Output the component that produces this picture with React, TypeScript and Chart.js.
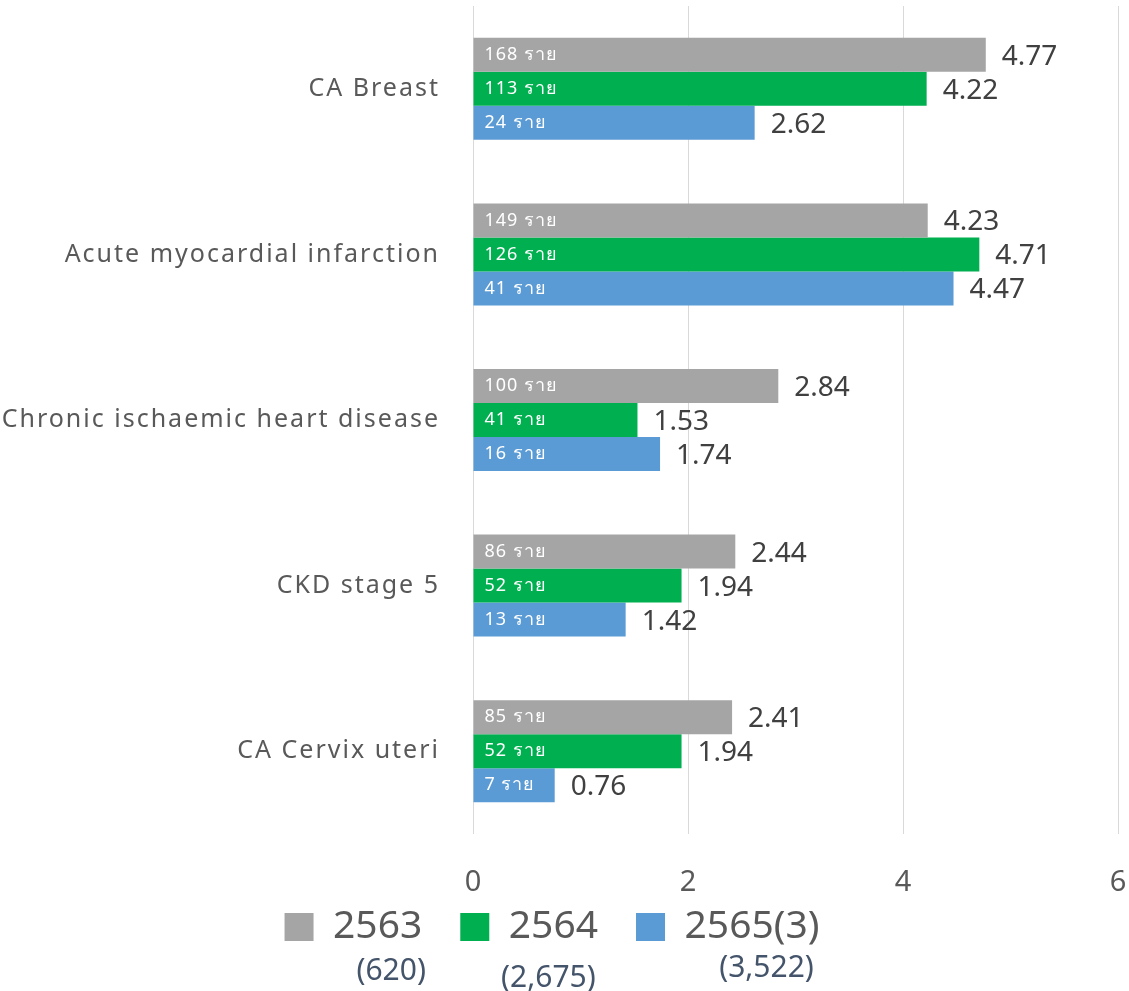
import React, { useEffect, useRef } from "react";
import { Chart, registerables } from "chart.js";

Chart.register(...registerables);

const categories = [
  "CA Breast",
  "Acute myocardial infarction",
  "Chronic ischaemic heart disease",
  "CKD stage 5",
  "CA Cervix uteri",
];
const seriesNames = ["2563", "2564", "2565(3)"];
const seriesTotals = ["(620)", "(2,675)", "(3,522)"];
const rate2563 = [4.77, 4.23, 2.84, 2.44, 2.41];
const rate2564 = [4.22, 4.71, 1.53, 1.94, 1.94];
const rate2565 = [2.62, 4.47, 1.74, 1.42, 0.76];
const cases2563 = [168, 149, 100, 86, 85];
const cases2564 = [113, 126, 41, 52, 52];
const cases2565 = [24, 41, 16, 13, 7];
const xMin = 0;
const xMax = 6;
const xStep = 2;
const seriesColors = ["#A5A5A5", "#00B050", "#5B9BD5"];

const FONT = "'Noto Sans', 'DejaVu Sans', sans-serif";
const casesBySeries = [cases2563, cases2564, cases2565];
const ratesBySeries = [rate2563, rate2564, rate2565];

const labelPlugin = {
  id: "barLabels",
  afterLayout(chart: any) {
    const lg = chart.legend;
    if (lg) {
      lg.left -= 7;
      lg.right -= 7;
      lg.top -= 34.5;
      lg.bottom -= 34.5;
    }
  },
  afterDatasetsDraw(chart: any) {
    const ctx = chart.ctx;
    chart.data.datasets.forEach((ds: any, di: number) => {
      const meta = chart.getDatasetMeta(di);
      const cases = casesBySeries[di];
      meta.data.forEach((bar: any, i: number) => {
        const { x, y, base } = bar.getProps(["x", "y", "base"], true);
        ctx.save();
        ctx.textAlign = "left";
        ctx.textBaseline = "middle";
        ctx.font = `18px ${FONT}`;
        ctx.fillStyle = "#FFFFFF";
        (ctx as any).letterSpacing = "1px";
        ctx.fillText(`${cases[i]} ราย`, base + 11, y);
        (ctx as any).letterSpacing = "0px";
        ctx.font = `28px ${FONT}`;
        ctx.fillStyle = "#404040";
        ctx.fillText(Number(ds.data[i]).toFixed(2), x + 16, y + 2);
        ctx.restore();
      });
    });
  },
  afterDraw(chart: any) {
    const lg = chart.legend;
    if (!lg || !lg.legendHitBoxes) return;
    const ctx = chart.ctx;
    const boxW = lg.options.labels.boxWidth;
    const fs = lg.options.labels.font.size;
    const dx = [13.5, -5, 14.5];
    const ys = [971, 978, 968];
    ctx.save();
    ctx.font = `30px ${FONT}`;
    ctx.fillStyle = "#44546A";
    ctx.textAlign = "center";
    ctx.textBaseline = "middle";
    lg.legendHitBoxes.forEach((hb: any, i: number) => {
      const cx = hb.left + (boxW + fs / 2 + hb.width) / 2;
      ctx.fillText(seriesTotals[i], cx + dx[i], ys[i]);
    });
    ctx.restore();
  },
};

export default function App() {
  const ref = useRef<HTMLCanvasElement | null>(null);
  useEffect(() => {
    if (!ref.current) return;
    const chart = new Chart(ref.current, {
      type: "bar",
      data: {
        labels: categories,
        datasets: seriesNames.map((name, i) => ({
          label: name,
          data: ratesBySeries[i],
          backgroundColor: seriesColors[i],
          borderWidth: 0,
          barPercentage: 1,
          categoryPercentage: 0.616,
        })),
      },
      options: {
        indexAxis: "y",
        animation: false,
        responsive: false,
        maintainAspectRatio: false,
        layout: { padding: { top: 6, right: 11, bottom: 0, left: 0 } },
        scales: {
          x: {
            min: xMin,
            max: xMax,
            afterFit(scale: any) {
              scale.height = 70;
              scale.paddingLeft = 0;
              scale.paddingRight = 0;
            },
            grid: { color: "#D9D9D9", lineWidth: 1, drawTicks: false },
            border: { display: false },
            ticks: {
              stepSize: xStep,
              color: "#595959",
              font: { family: FONT, size: 29 },
              padding: 31,
            },
          },
          y: {
            afterFit(scale: any) {
              scale.width = 473;
              scale.paddingTop = 0;
              scale.paddingBottom = 0;
              if (!scale._spaced) {
                scale._spaced = true;
                const orig = scale.drawLabels;
                scale.drawLabels = function (area: any) {
                  const c = this.ctx;
                  const prev = c.letterSpacing;
                  c.letterSpacing = "2px";
                  orig.call(this, area);
                  c.letterSpacing = prev || "0px";
                };
              }
            },
            grid: { display: false, drawTicks: false },
            border: { display: false },
            ticks: {
              color: "#595959",
              font: { family: FONT, size: 25 },
              padding: 33,
            },
          },
        },
        plugins: {
          legend: {
            position: "bottom",
            labels: {
              boxWidth: 29,
              boxHeight: 28,
              padding: 38,
              color: "#595959",
              font: { family: FONT, size: 39 },
            },
          },
          tooltip: { enabled: false },
        },
      },
      plugins: [labelPlugin],
    } as any);
    return () => chart.destroy();
  }, []);
  return (
    <div style={{ position: "fixed", left: 0, top: 0, width: 1129, height: 991, background: "#FFFFFF" }}>
      <canvas ref={ref} width={1129} height={991} style={{ width: 1129, height: 991, display: "block" }} />
    </div>
  );
}
